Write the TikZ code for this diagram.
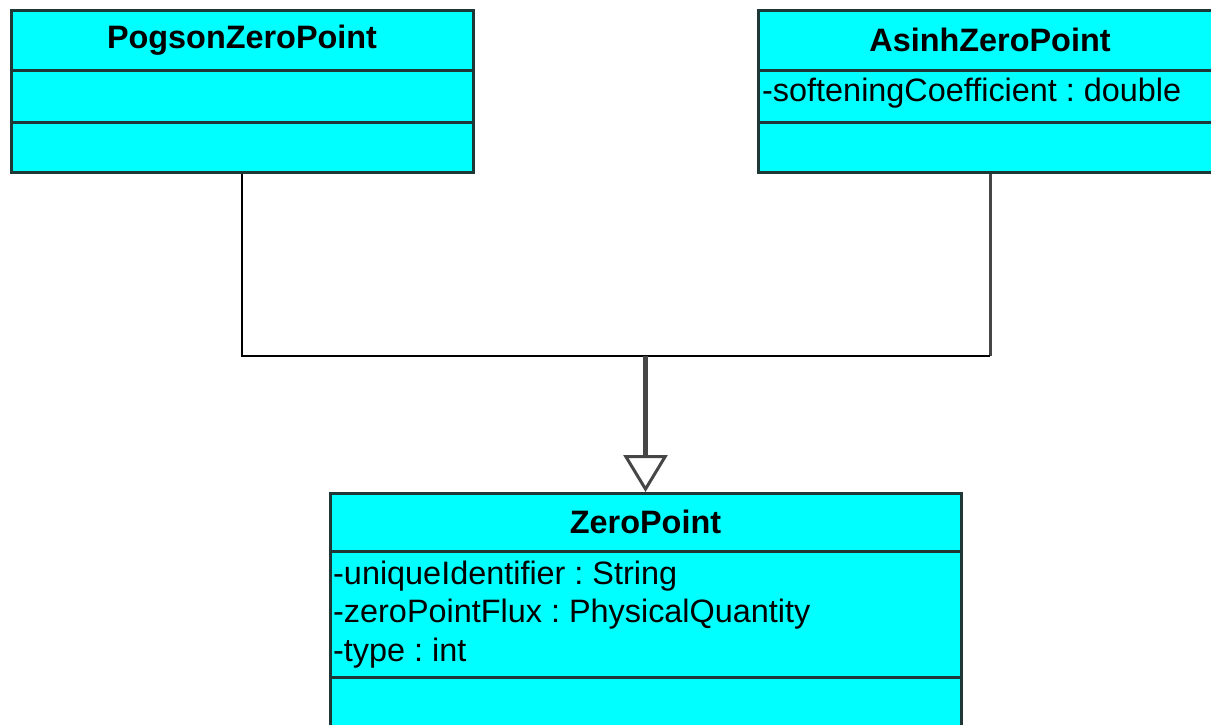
\documentclass[tikz,border=0pt]{standalone}
\usepackage{fontspec}
\setmainfont{Liberation Sans}
\usetikzlibrary{arrows.meta}
\frenchspacing
\definecolor{boxfill}{RGB}{0,255,255}
\definecolor{boxline}{RGB}{30,55,55}
\definecolor{conngray}{RGB}{70,70,70}
\tikzset{
  classbox/.style={draw=boxline, line width=3pt, fill=boxfill, rectangle, inner sep=0pt},
  sepline/.style={draw=boxline, line width=3pt},
  titletext/.style={font=\fontsize{32.4}{38}\selectfont\bfseries, inner sep=0pt, anchor=center},
  attrtext/.style={font=\fontsize{32.4}{38}\selectfont, inner sep=0pt, anchor=west},
  thinconn/.style={draw=black, line width=2pt},
  grayconn/.style={draw=conngray, line width=3pt},
  mainconn/.style={draw=conngray, line width=5pt},
}
\begin{document}
\begin{tikzpicture}[x=1pt,y=-1pt]
\useasboundingbox (0,0) rectangle (1211,724);
\clip (0,0) rectangle (1211,724);
% boxes
\node[classbox, minimum width=462pt, minimum height=162pt] (pog) at (242,91.5) {};
\node[classbox, minimum width=464pt, minimum height=162pt] (asinh) at (990,91.5) {};
\node[classbox, minimum width=631pt, minimum height=260pt, anchor=north] (zp) at (645.5,492) {};
% compartments
\draw[sepline] (pog.west |- 0,70) -- (pog.east |- 0,70);
\draw[sepline] (pog.west |- 0,122) -- (pog.east |- 0,122);
\draw[sepline] (asinh.west |- 0,70) -- (asinh.east |- 0,70);
\draw[sepline] (asinh.west |- 0,122) -- (asinh.east |- 0,122);
\draw[sepline] (zp.west |- 0,551) -- (zp.east |- 0,551);
\draw[sepline] (zp.west |- 0,677) -- (zp.east |- 0,677);
% texts
\node[titletext] (pogt) at (242,40) {PogsonZeroPoint};
\node[titletext] (asinht) at (990,40) {AsinhZeroPoint};
\node[attrtext] (asinha) at (762,93) {-softeningCoefficient : double};
\node[titletext] (zpt) at (645.5,522) {ZeroPoint};
\node[attrtext] (zpa1) at (333,576) {-uniqueIdentifier : String};
\node[attrtext] (zpa2) at (333,614) {-zeroPointFlux : PhysicalQuantity};
\node[attrtext] (zpa3) at (333,653) {-type : int};
% connectors
\coordinate (join) at (645.5,356);
\draw[thinconn] (pog.south) |- (join);
\draw[grayconn] (asinh.south) -- (asinh.south |- join);
\draw[thinconn] (asinh.south |- join) -- (join);
\draw[mainconn, -{Triangle[open, length=37pt, width=44pt, line width=3pt, fill=white]}] (join) -- (zp.north);
\end{tikzpicture}
\end{document}
